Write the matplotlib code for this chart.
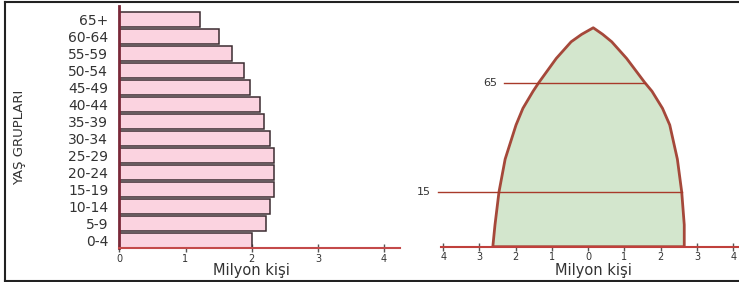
import numpy as np
import matplotlib.pyplot as plt
from matplotlib.lines import Line2D

# left chart: population by age group (million people)
age_groups = ["0-4", "5-9", "10-14", "15-19", "20-24", "25-29", "30-34",
              "35-39", "40-44", "45-49", "50-54", "55-59", "60-64", "65+"]
population = [2.00, 2.22, 2.28, 2.34, 2.34, 2.34, 2.27,
              2.19, 2.13, 1.98, 1.89, 1.70, 1.50, 1.22]
left_ticks = [0, 1, 2, 3, 4]

# right chart: pyramid outline (relative height 0-100, width in million)
shape_height = [0, 10, 25, 40, 55.6, 63.2, 71, 75, 86, 93.6, 97, 100]
shape_left = [-2.63, -2.57, -2.46, -2.29, -1.99, -1.80, -1.52, -1.36, -0.88, -0.47, -0.18, 0.14]
shape_right = [2.65, 2.65, 2.58, 2.46, 2.25, 2.05, 1.76, 1.56, 1.06, 0.65, 0.40, 0.14]
level_heights = [25, 75]
level_labels = ["15", "65"]
level_starts = [-4.15, -2.31]
right_ticks = [-4, -3, -2, -1, 0, 1, 2, 3, 4]

W, H = 739, 282
fig = plt.figure(figsize=(W / 100, H / 100), dpi=100)


def px_axes(x0, y0, x1, y1):
    return fig.add_axes([x0 / W, 1 - y1 / H, (x1 - x0) / W, (y1 - y0) / H])


txt = "#333333"

# ---- left: bar chart
ax1 = px_axes(119.3, 6, 400, 248)
y = np.arange(len(age_groups))
ax1.barh(y, population, height=0.86, color="#fbd3e0", edgecolor="#3b2b30", linewidth=1.1, zorder=2)
ax1.set_xlim(0, 4.24)
ax1.set_ylim(-0.43, 13.79)
ax1.set_yticks(y)
ax1.set_yticklabels(age_groups, fontsize=10, color=txt)
ax1.tick_params(axis="y", length=0, pad=8)
ax1.set_xticks(left_ticks)
ax1.tick_params(axis="x", direction="inout", length=6, width=1, color="#555555",
                labelsize=7, labelcolor=txt, pad=1)
for s in ["top", "right"]:
    ax1.spines[s].set_visible(False)
ax1.spines["left"].set_color("#7a2838")
ax1.spines["left"].set_linewidth(2)
ax1.spines["bottom"].set_color("#c44a4a")
ax1.spines["bottom"].set_linewidth(1.5)

fig.text(20 / W, 1 - 137 / H, "YAŞ GRUPLARI", rotation=90, ha="center", va="center",
         fontsize=9.5, color=txt, family=["Liberation Sans Narrow", "DejaVu Sans"])
fig.text(251 / W, 1 - 271 / H, "Milyon kişi", ha="center", va="center", fontsize=10.5, color=txt)

# ---- right: pyramid outline
ax2 = px_axes(400, 5, 739, 246.7)
xs = shape_left + shape_right[::-1]
ys = shape_height + shape_height[::-1]
ax2.fill(xs, ys, facecolor="#d3e6cd", edgecolor="#a5483a", linewidth=2,
         joinstyle="round", zorder=2)

for h, lab, x0 in zip(level_heights, level_labels, level_starts):
    x1 = np.interp(h, shape_height, shape_right)
    ax2.plot([x0, x1], [h, h], color="#a83a2a", linewidth=1, zorder=3)
    ax2.text(x0 - 0.2, h, lab, ha="right", va="center", fontsize=8, color=txt)

ax2.set_xlim(-5.19, 4.16)
ax2.set_ylim(0, 110.4)
ax2.set_xticks(right_ticks)
ax2.set_xticklabels([str(abs(t)) for t in right_ticks])
ax2.tick_params(axis="x", direction="inout", length=6, width=1, color="#555555",
                labelsize=7, labelcolor=txt, pad=1)
ax2.set_yticks([])
for s in ["top", "right", "left"]:
    ax2.spines[s].set_visible(False)
ax2.spines["bottom"].set_bounds(-4.05, 4.16)
ax2.spines["bottom"].set_color("#c0403c")
ax2.spines["bottom"].set_linewidth(1.5)
ax2.patch.set_alpha(0)

fig.text(593 / W, 1 - 271 / H, "Milyon kişi", ha="center", va="center", fontsize=10.5, color=txt)

# ---- outer frame
frame = dict(color="#222222", linewidth=1.5, transform=fig.transFigure)
fig.add_artist(Line2D([5 / W, 5 / W], [1 - 2 / H, 1 - 280.5 / H], **frame))
fig.add_artist(Line2D([5 / W, 1], [1 - 2 / H, 1 - 2 / H], **frame))
fig.add_artist(Line2D([5 / W, 1], [1 - 280.5 / H, 1 - 280.5 / H], **frame))

fig.savefig("out.png", dpi=100)
